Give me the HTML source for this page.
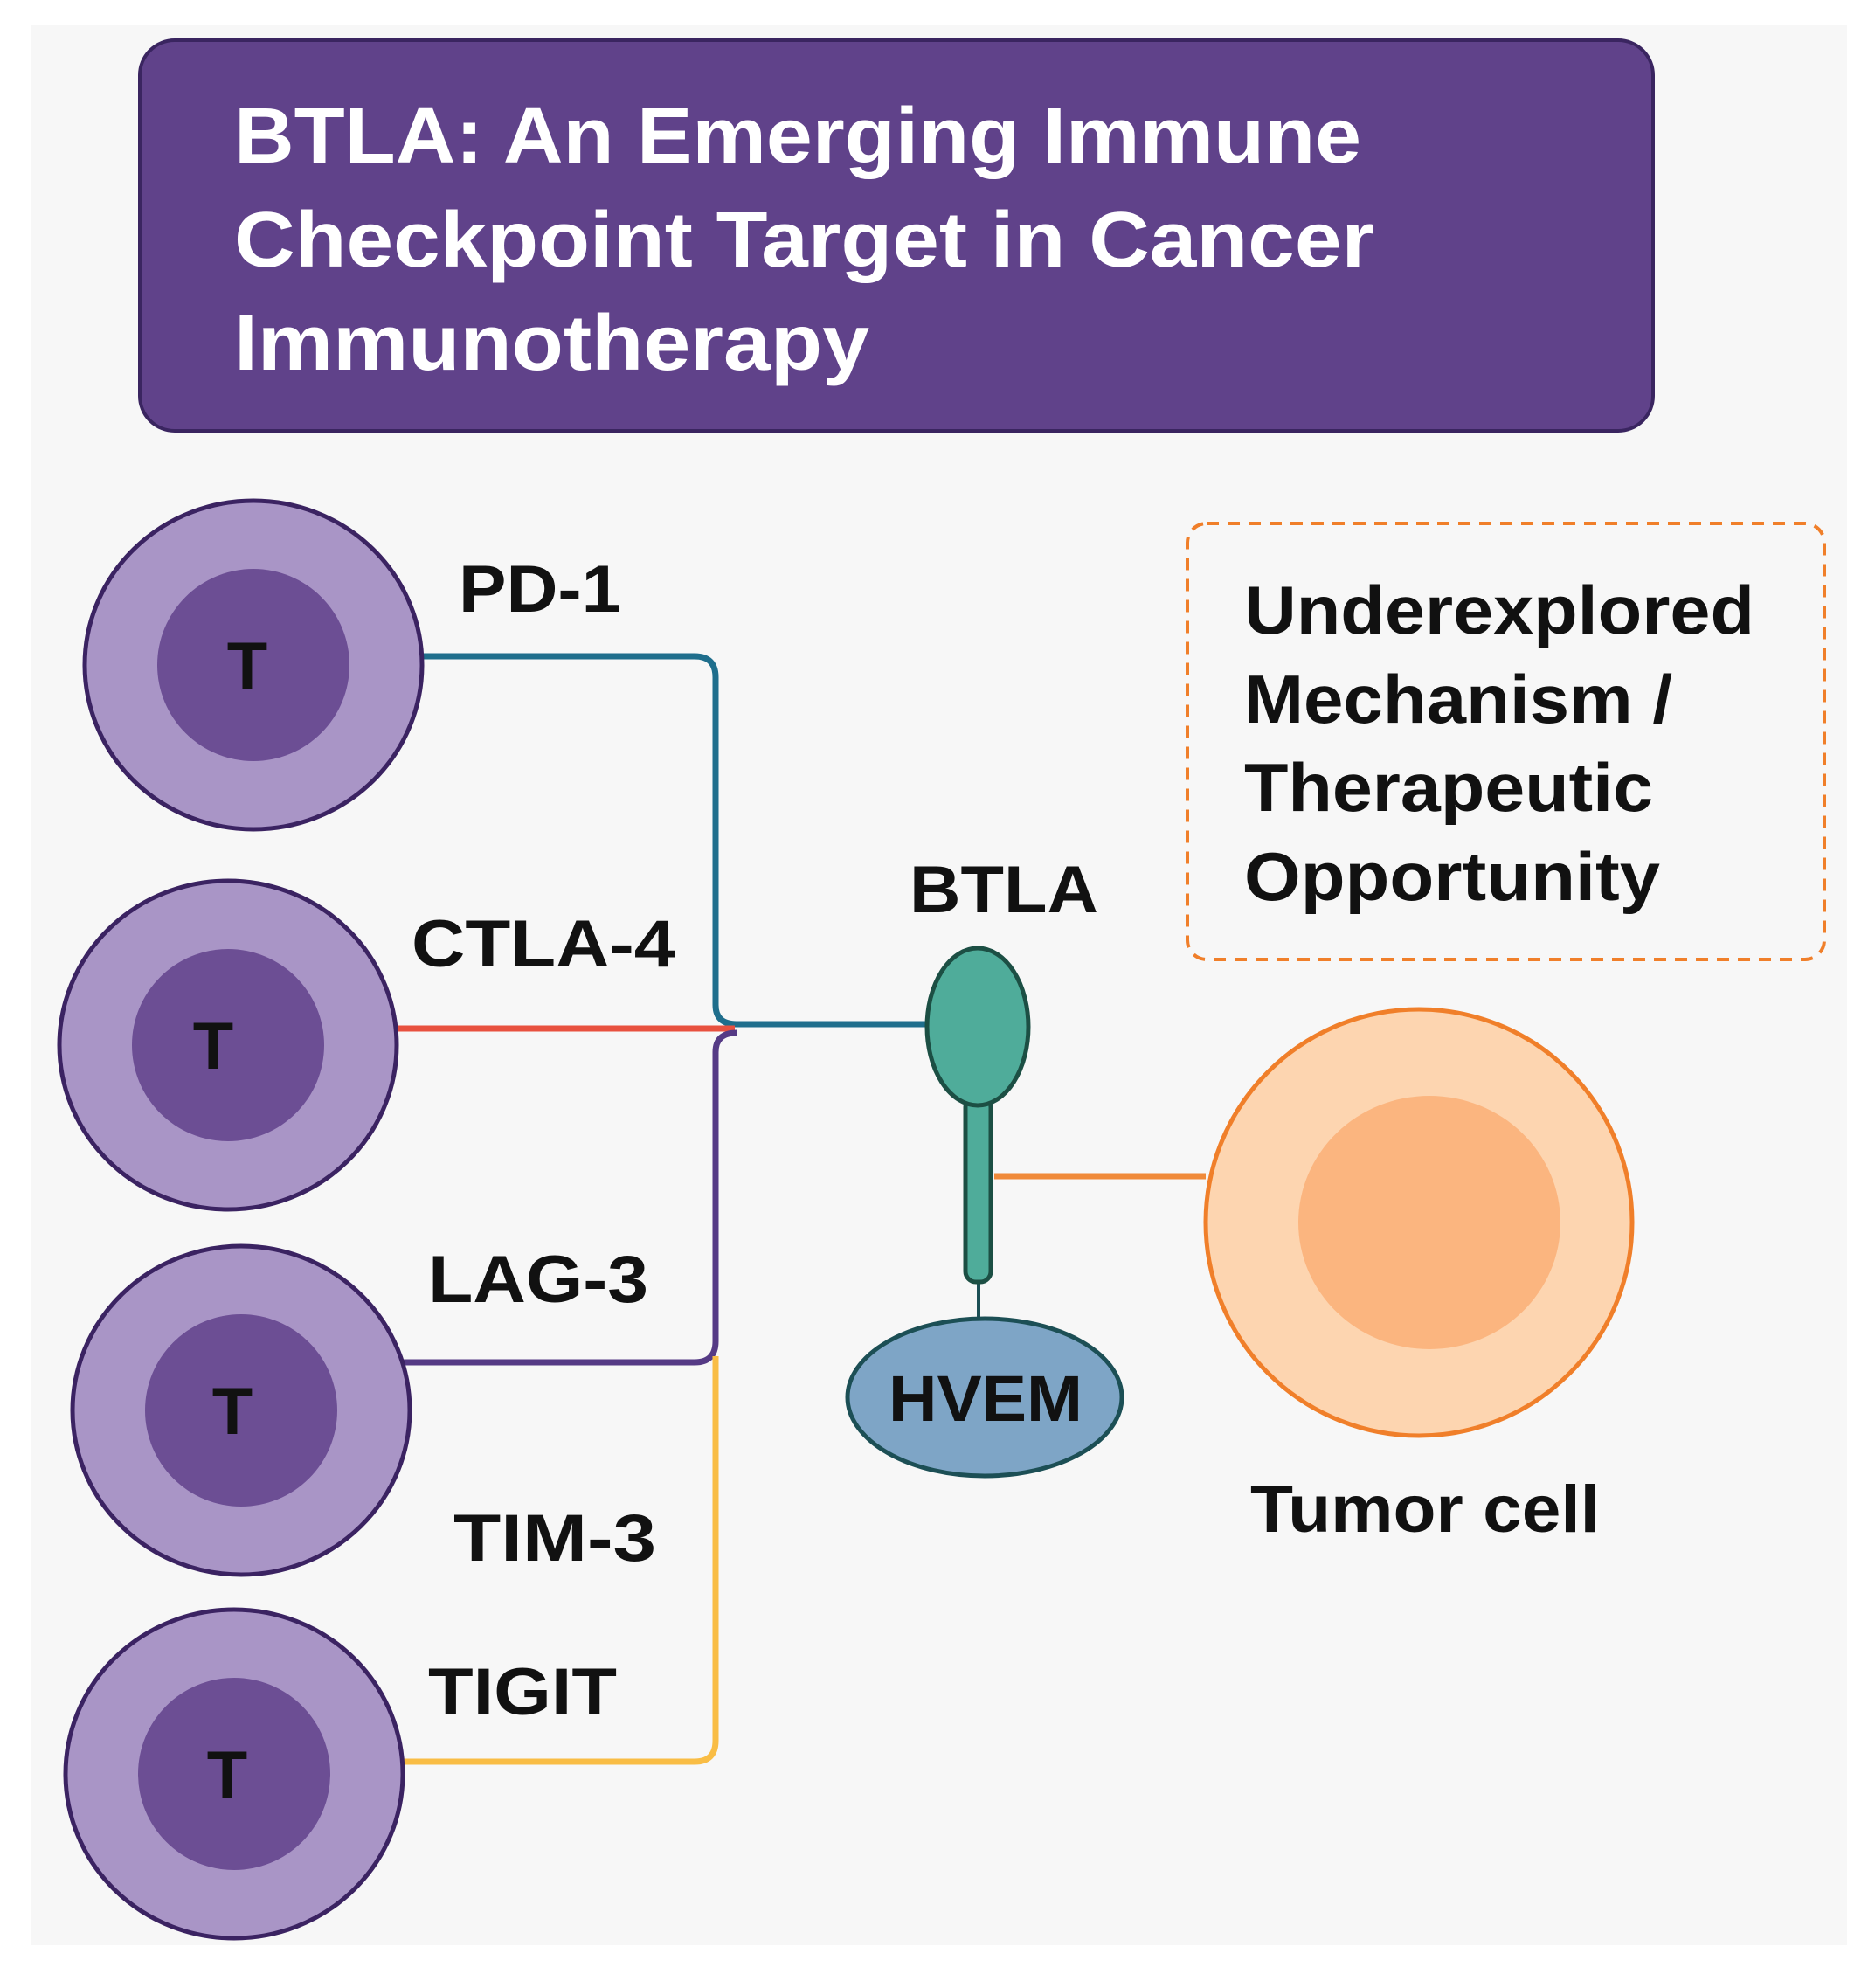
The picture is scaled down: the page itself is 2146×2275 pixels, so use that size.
<!DOCTYPE html>
<html><head><meta charset="utf-8"><style>html,body{margin:0;padding:0;background:#fff}svg{display:block}</style></head>
<body>
<svg width="2146" height="2275" viewBox="0 0 2146 2275" xmlns="http://www.w3.org/2000/svg" font-family="'Liberation Sans', sans-serif" font-weight="bold">
<rect x="36" y="29" width="2078" height="2197" fill="#f7f7f7"/>
<rect x="160" y="46" width="1732" height="447" rx="40" fill="#60428a" stroke="#3a2560" stroke-width="4"/>
<g fill="#fff" font-size="90">
<text x="268" y="186" textLength="1290" lengthAdjust="spacingAndGlyphs">BTLA: An Emerging Immune</text>
<text x="268" y="305" textLength="1305" lengthAdjust="spacingAndGlyphs">Checkpoint Target in Cancer</text>
<text x="268" y="423" textLength="727" lengthAdjust="spacingAndGlyphs">Immunotherapy</text>
</g>
<g fill="none" stroke-width="7" stroke-linejoin="round">
<path d="M483 751 H795 Q819 751 819 775 V1150 Q819 1172 843 1172 H1066" stroke="#1f6e8c"/>
<path d="M454 1177 H841" stroke="#e8513f"/>
<path d="M461 1559 H795 Q819 1559 819 1535 V1204 Q819 1182 843 1182" stroke="#553a85"/>
<path d="M461 2016 H795 Q819 2016 819 1992 V1552" stroke="#f9bd45"/>
<path d="M1138 1346 H1380" stroke="#f08a3a"/>
</g>
<g stroke="#3b2362" stroke-width="5">
<ellipse cx="290" cy="761" rx="193" ry="188" fill="#a995c6"/>
<ellipse cx="261" cy="1196" rx="193" ry="188" fill="#a995c6"/>
<ellipse cx="276" cy="1614" rx="193" ry="188" fill="#a995c6"/>
<ellipse cx="268" cy="2030" rx="193" ry="188" fill="#a995c6"/>
</g>
<g fill="#6c4e94">
<circle cx="290" cy="761" r="110"/>
<circle cx="261" cy="1196" r="110"/>
<circle cx="276" cy="1614" r="110"/>
<circle cx="268" cy="2030" r="110"/>
</g>
<g fill="#111" font-size="76" text-anchor="middle">
<text x="283" y="788">T</text>
<text x="244" y="1223">T</text>
<text x="266" y="1641">T</text>
<text x="260" y="2057">T</text>
</g>
<g fill="#111" font-size="76" lengthAdjust="spacingAndGlyphs">
<text x="525" y="700" textLength="186" lengthAdjust="spacingAndGlyphs">PD-1</text>
<text x="471" y="1106" textLength="302" lengthAdjust="spacingAndGlyphs">CTLA-4</text>
<text x="490" y="1490" textLength="252" lengthAdjust="spacingAndGlyphs">LAG-3</text>
<text x="519" y="1786" textLength="232" lengthAdjust="spacingAndGlyphs">TIM-3</text>
<text x="490" y="1962" textLength="216" lengthAdjust="spacingAndGlyphs">TIGIT</text>
<text x="1041" y="1044" textLength="216" lengthAdjust="spacingAndGlyphs">BTLA</text>
<text x="1431" y="1753" textLength="400" lengthAdjust="spacingAndGlyphs">Tumor cell</text>
</g>
<line x1="1120" y1="1460" x2="1120" y2="1512" stroke="#1c4f55" stroke-width="4"/>
<rect x="1105" y="1255" width="29" height="212" rx="12" fill="#4fac9a" stroke="#1c4f44" stroke-width="5"/>
<ellipse cx="1119" cy="1175" rx="58" ry="90" fill="#4fac9a" stroke="#1c4f44" stroke-width="5"/>
<ellipse cx="1127" cy="1599" rx="157" ry="90" fill="#7ea5c6" stroke="#1c4f55" stroke-width="5"/>
<text x="1017" y="1626" font-size="74" fill="#111" textLength="222" lengthAdjust="spacingAndGlyphs">HVEM</text>
<circle cx="1624" cy="1399" r="244" fill="#fdd5b0" stroke="#f07f2a" stroke-width="5"/>
<ellipse cx="1636" cy="1399" rx="150" ry="145" fill="#fbb57f"/>
<rect x="1359" y="599" width="729" height="499" rx="22" fill="none" stroke="#f07f2a" stroke-width="4" stroke-dasharray="14 10"/>
<g fill="#111" font-size="78">
<text x="1424" y="725" textLength="584" lengthAdjust="spacingAndGlyphs">Underexplored</text>
<text x="1424" y="827" textLength="490" lengthAdjust="spacingAndGlyphs">Mechanism /</text>
<text x="1424" y="928" textLength="468" lengthAdjust="spacingAndGlyphs">Therapeutic</text>
<text x="1424" y="1030" textLength="476" lengthAdjust="spacingAndGlyphs">Opportunity</text>
</g>
</svg>
</body></html>
